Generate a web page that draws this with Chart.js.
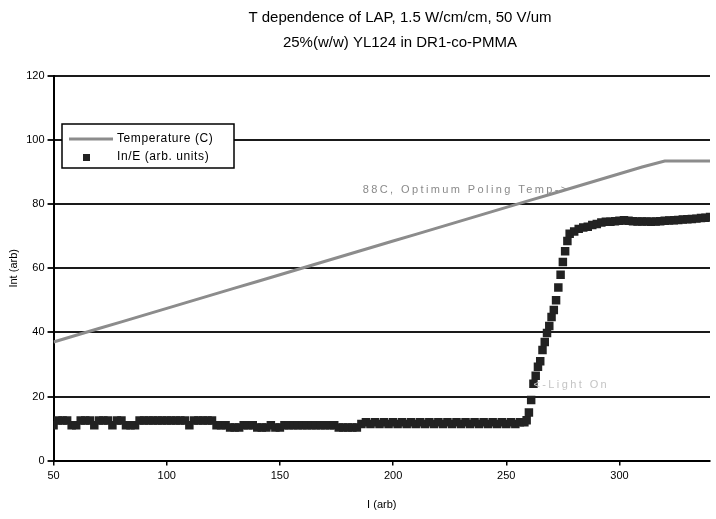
<!DOCTYPE html>
<html><head><meta charset="utf-8">
<script src="https://cdn.jsdelivr.net/npm/chart.js@4.4.1/dist/chart.umd.min.js"></script>
<style>html,body{margin:0;padding:0;background:#fff}canvas{display:block}</style>
</head><body>
<canvas id="c" width="716" height="519"></canvas>
<script>
// ---- data ----
const titleLines = ["T dependence of LAP, 1.5 W/cm/cm, 50 V/um", "25%(w/w) YL124 in DR1-co-PMMA"];
const xAxisTitle = "I (arb)";
const yAxisTitle = "Int (arb)";
const xTicks = [50, 100, 150, 200, 250, 300];
const yTicks = [0, 20, 40, 60, 80, 100, 120];
const seriesNames = ["Temperature (C)", "In/E (arb. units)"];
const annotations = [
  { text: "88C, Optimum Poling Temp->", x: 278, y: 84.5, align: "right", color: "#8a8a8a" },
  { text: "<-Light On", x: 262, y: 23.5, align: "left", color: "#c4c4c4" }
];

const tempX = [50,60,70,80,90,100,110,120,130,140,150,160,170,180,190,200,210,220,230,240,250,260,270,280,290,300,310,320,340];
const tempY = [37,39.1,41.2,43.3,45.4,47.5,49.6,51.7,53.8,55.9,58,60.1,62.2,64.3,66.4,68.5,70.6,72.7,74.8,76.9,79,81.1,83.2,85.3,87.4,89.5,91.6,93.5,93.5];

const inX = [
  50,52,54,56,58, 60,62,64,66,68, 70,72,74,76,78, 80,82,84,86,88, 90,92,94,96,98,
  100,102,104,106,108, 110,112,114,116,118, 120,122,124,126,128, 130,132,134,136,138, 140,142,144,146,148,
  150,152,154,156,158, 160,162,164,166,168, 170,172,174,176,178, 180,182,184,186,188, 190,192,194,196,198,
  200,202,204,206,208, 210,212,214,216,218, 220,222,224,226,228, 230,232,234,236,238, 240,242,244,246,248,
  250,252,254,256,
  258,259,260,261,262,263,264,265,266,267,268,269,270,271,272,273,274,275,276,277,278,
  280,282,284,286,288,290,292,294,296,298,300,302,304,306,308,310,312,314,316,318,320,322,324,326,328,330,332,334,336,338,340
];
const inY = [
  11,12.5,12.5,12.5,11, 11,12.5,12.5,12.5,11, 12.5,12.5,12.5,11,12.5, 12.5,11,11,11,12.5, 12.5,12.5,12.5,12.5,12.5,
  12.5,12.5,12.5,12.5,12.5, 11,12.5,12.5,12.5,12.5, 12.5,11,11,11,10.3, 10.3,10.3,11,11,11, 10.3,10.3,10.3,11,10.3,
  10.3,11,11,11,11, 11,11,11,11,11, 11,11,11,10.3,10.3, 10.3,10.3,10.3,11.4,12, 11.4,12,11.4,12,11.4,
  12,11.4,12,11.4,12, 11.4,12,11.4,12,11.4, 12,11.4,12,11.4,12, 11.4,12,11.4,12,11.4, 12,11.4,12,11.4,12,
  11.4,12,11.4,12,
  12,12.6,15,18.9,24,26.5,29.3,31,34.5,37,39.8,42,44.8,47,50,54,58,62,65.3,68.5,70.8,
  71.5,72.3,72.7,73,73.5,73.8,74.3,74.5,74.5,74.7,74.8,75,74.8,74.7,74.6,74.6,74.6,74.5,74.6,74.7,74.8,74.9,75,75.1,75.2,75.3,75.4,75.5,75.7,75.8,76
];

const FONT = '"Liberation Sans", Arial, sans-serif';

const titlePlugin = {
  id: 'titles',
  afterDraw(chart) {
    const ctx = chart.ctx;
    ctx.save();
    ctx.fillStyle = '#000';
    ctx.font = '15px ' + FONT;
    ctx.textAlign = 'center';
    ctx.textBaseline = 'middle';
    ctx.fillText(titleLines[0], 400, 18);
    ctx.fillText(titleLines[1], 400, 43);
    ctx.restore();
  }
};

const annotationPlugin = {
  id: 'notes',
  afterDatasetsDraw(chart) {
    const ctx = chart.ctx, xs = chart.scales.x, ys = chart.scales.y;
    ctx.save();
    ctx.font = '11px ' + FONT;
    if ('letterSpacing' in ctx) ctx.letterSpacing = '2.4px';
    ctx.textBaseline = 'middle';
    annotations.forEach(a => {
      ctx.fillStyle = a.color;
      ctx.textAlign = a.align;
      ctx.fillText(a.text, xs.getPixelForValue(a.x), ys.getPixelForValue(a.y));
    });
    ctx.restore();
  }
};

const legendPlugin = {
  id: 'boxLegend',
  afterDraw(chart) {
    const ctx = chart.ctx;
    const ds = chart.data.datasets;
    const L = 62, T = 124, W = 172, H = 44;
    ctx.save();
    ctx.fillStyle = '#fff';
    ctx.fillRect(L, T, W, H);
    ctx.strokeStyle = '#000';
    ctx.lineWidth = 1.5;
    ctx.strokeRect(L, T, W, H);
    ctx.strokeStyle = ds[0].borderColor;
    ctx.lineWidth = 3;
    ctx.beginPath(); ctx.moveTo(69, 139); ctx.lineTo(113, 139); ctx.stroke();
    ctx.fillStyle = ds[1].backgroundColor;
    ctx.fillRect(83, 154, 7, 7);
    ctx.fillStyle = '#000';
    ctx.font = '12px ' + FONT;
    if ('letterSpacing' in ctx) ctx.letterSpacing = '0.6px';
    ctx.textAlign = 'left';
    ctx.textBaseline = 'middle';
    ctx.fillText(ds[0].label, 117, 139);
    ctx.fillText(ds[1].label, 117, 157);
    ctx.restore();
  }
};

new Chart(document.getElementById('c'), {
  type: 'scatter',
  data: {
    datasets: [
      {
        type: 'line',
        label: seriesNames[0],
        data: tempX.map((x, i) => ({ x, y: tempY[i] })),
        borderColor: '#8c8c8c',
        borderWidth: 3,
        pointRadius: 0,
        tension: 0,
        fill: false,
        order: 2
      },
      {
        type: 'scatter',
        label: seriesNames[1],
        data: inX.map((x, i) => ({ x, y: inY[i] })),
        pointStyle: 'rect',
        pointRadius: 6,
        borderWidth: 0,
        backgroundColor: '#222',
        borderColor: '#222',
        order: 1
      }
    ]
  },
  options: {
    responsive: false,
    animation: false,
    devicePixelRatio: 1,
    layout: { padding: { top: 76, left: 0, right: 0, bottom: 3 } },
    plugins: { legend: { display: false }, title: { display: false }, tooltip: { enabled: false } },
    scales: {
      x: {
        type: 'linear', min: 50, max: 340,
        afterBuildTicks: axis => { axis.ticks = xTicks.map(v => ({ value: v })); },
        grid: { drawOnChartArea: false, drawTicks: true, tickLength: 5, color: '#000', lineWidth: 1.5 },
        border: { display: true, color: '#000', width: 2 },
        ticks: { color: '#000', font: { family: FONT, size: 11 }, padding: 4, maxRotation: 0 },
        title: { display: true, text: xAxisTitle, color: '#000', font: { family: FONT, size: 11 }, padding: { top: 12, bottom: 4 } }
      },
      y: {
        type: 'linear', min: 0, max: 120,
        afterBuildTicks: axis => { axis.ticks = yTicks.map(v => ({ value: v })); },
        grid: { color: '#1a1a1a', lineWidth: 2, drawTicks: true, tickLength: 6 },
        border: { display: true, color: '#000', width: 2 },
        ticks: { color: '#000', font: { family: FONT, size: 11 }, padding: 3 },
        title: { display: true, text: yAxisTitle, color: '#000', font: { family: FONT, size: 11 }, padding: { top: 7, bottom: 3 } }
      }
    }
  },
  plugins: [annotationPlugin, legendPlugin, titlePlugin]
});
</script>
</body></html>
